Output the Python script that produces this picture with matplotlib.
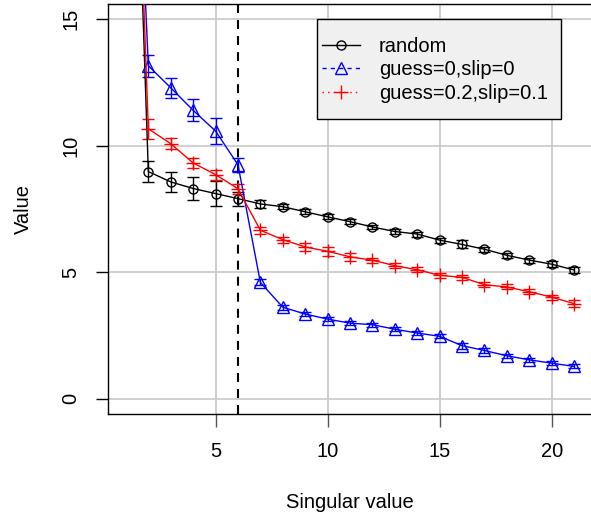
import matplotlib
matplotlib.use('Agg')
import matplotlib.pyplot as plt
from matplotlib.lines import Line2D
from matplotlib.patches import Rectangle

plt.rcParams['font.family'] = ['Liberation Sans', 'DejaVu Sans']

# --- data ---
singular = list(range(1, 22))

random_mean = [35.0, 8.98, 8.57, 8.31, 8.11, 7.91, 7.70, 7.59, 7.39, 7.19, 7.00,
               6.79, 6.61, 6.51, 6.27, 6.10, 5.91, 5.67, 5.48, 5.32, 5.09]
random_err = [0.50, 0.42, 0.40, 0.44, 0.50, 0.28, 0.15, 0.10, 0.10, 0.10, 0.10,
              0.08, 0.10, 0.10, 0.10, 0.16, 0.10, 0.10, 0.10, 0.12, 0.10]

g0_mean = [33.0, 13.16, 12.29, 11.40, 10.58, 9.25, 4.60, 3.62, 3.35, 3.15, 2.99,
           2.93, 2.75, 2.60, 2.47, 2.10, 1.91, 1.70, 1.54, 1.41, 1.28]
g0_err = [0.50, 0.43, 0.40, 0.43, 0.50, 0.27, 0.12, 0.10, 0.08, 0.08, 0.08,
          0.08, 0.08, 0.08, 0.08, 0.12, 0.08, 0.08, 0.08, 0.08, 0.08]

g2_mean = [35.0, 10.67, 10.08, 9.32, 8.86, 8.30, 6.66, 6.29, 6.00, 5.83, 5.61,
           5.48, 5.26, 5.10, 4.88, 4.80, 4.51, 4.42, 4.23, 4.02, 3.76]
g2_err = [0.50, 0.40, 0.22, 0.20, 0.20, 0.20, 0.13, 0.12, 0.15, 0.17, 0.15,
          0.10, 0.10, 0.10, 0.10, 0.10, 0.10, 0.10, 0.10, 0.10, 0.15]

labels = ['random', 'guess=0,slip=0', 'guess=0.2,slip=0.1']
cutoff = 6

fig = plt.figure(figsize=(5.91, 5.14), dpi=100)
# plot region runs a touch past the right edge of the image, like the original
ax = fig.add_axes([108 / 591, 1 - 414 / 514, 484 / 591, 410 / 514])

ax.set_xlim(0.2, 21.8)
ax.set_ylim(-0.6, 15.6)

# grid
for gx in [5, 10, 15, 20]:
    ax.axvline(gx, color='#cccccc', lw=1.4, zorder=0)
for gy in [0, 5, 10, 15]:
    ax.axhline(gy, color='#c8c8c8', lw=1.2, zorder=0)

ax.axvline(cutoff, color='black', lw=1.5, ls=(0, (4.3, 3.4)), zorder=1)

series = [
    (random_mean, random_err, 'black', 'o', 6.5),
    (g0_mean, g0_err, 'blue', '^', 8.5),
    (g2_mean, g2_err, 'red', '+', 10),
]
for mean, err, col, mk, ms in series:
    ax.errorbar(singular, mean, yerr=err, color=col, lw=1.0, elinewidth=1.0,
                capsize=4.6, capthick=1.0, marker=mk, ms=ms,
                mfc='none', mec=col, mew=1.0, zorder=3)

# axes styling
for side in ['left', 'bottom', 'top']:
    ax.spines[side].set_linewidth(1.0)
ax.spines['right'].set_visible(False)
ax.set_xticks([5, 10, 15, 20])
ax.set_yticks([0, 5, 10, 15])
ax.tick_params(axis='x', length=9, width=1.0, color='#555555', pad=11, labelsize=14.5)
ax.tick_params(axis='y', length=9, width=1.0, color='black', pad=11, labelsize=14.5)
for t in ax.get_yticklabels():
    t.set_rotation(90)
    t.set_va('center')

fig.text(350 / 591, 1 - 502 / 514, 'Singular value', ha='center', va='center', fontsize=14.5)
fig.text(23 / 591, 1 - 209.5 / 514, 'Value', ha='center', va='center', rotation=90, fontsize=14.5)

# legend box (R style)
ax.add_patch(Rectangle((0.431, 0.7205), 0.504, 0.2425, transform=ax.transAxes,
                       facecolor='#f0f0f0', edgecolor='black', lw=1.0, zorder=5))
handles = [
    Line2D([], [], color='black', lw=1.0, marker='o', ms=6.5, mfc='none', mew=1.0),
    Line2D([], [], color='blue', lw=1.0, ls=(0, (3, 3)), marker='^', ms=8.5, mfc='none', mew=1.0),
    Line2D([], [], color='red', lw=1.0, ls=(0, (1, 3)), marker='+', ms=10, mew=1.0),
]
leg = ax.legend(handles, labels, loc='upper left', bbox_to_anchor=(0.4415, 0.92),
                frameon=False, borderpad=0, borderaxespad=0, fontsize=14.5,
                handlelength=1.88, handletextpad=0.95, labelspacing=0.22)
leg.set_zorder(6)

fig.savefig('out.png', dpi=100)
